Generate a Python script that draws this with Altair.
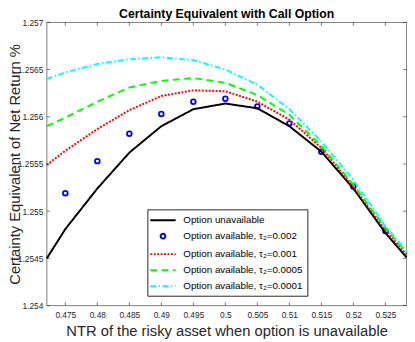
import altair as alt
import pandas as pd

# ---------------- data ----------------
x_line = [0.4721, 0.475, 0.48, 0.485, 0.49, 0.495, 0.5, 0.505, 0.51, 0.515, 0.52, 0.525, 0.5283]
ce_unavailable = [1.2545, 1.25481, 1.25524, 1.25562, 1.2559, 1.25608, 1.25614, 1.25609, 1.2559, 1.25563, 1.25524, 1.25477, 1.25451]
ce_tau_001 = [1.25549, 1.25564, 1.25587, 1.25607, 1.25622, 1.25628, 1.25627, 1.25616, 1.25597, 1.25567, 1.25526, 1.2548, 1.25454]
ce_tau_0005 = [1.2559, 1.25599, 1.25616, 1.25631, 1.25638, 1.25641, 1.25636, 1.25623, 1.25602, 1.25569, 1.25528, 1.25482, 1.25456]
ce_tau_0001 = [1.2564, 1.25647, 1.25656, 1.25661, 1.25663, 1.2566, 1.2565, 1.25634, 1.25608, 1.25574, 1.25533, 1.25484, 1.25458]

x_points = [0.475, 0.48, 0.485, 0.49, 0.495, 0.5, 0.505, 0.51, 0.515, 0.52, 0.525]
ce_tau_002 = [1.25519, 1.25553, 1.25582, 1.25603, 1.25616, 1.25619, 1.25611, 1.25593, 1.25563, 1.25526, 1.25479]

labels = [
    "Option unavailable",
    "Option available, τ₂=0.002",
    "Option available, τ₂=0.001",
    "Option available, τ₂=0.0005",
    "Option available, τ₂=0.0001",
]
colors = ["#000000", "#0000ff", "#ff0000", "#00ff00", "#00ffff"]
dashes = [[1, 0], [1, 0], [2, 1.5], [7, 4.5], [6, 2.5, 1.5, 2.5]]

x_limits = [0.4721, 0.5283]
y_limits = [1.254, 1.257]
x_ticks = [0.475, 0.48, 0.485, 0.49, 0.495, 0.5, 0.505, 0.51, 0.515, 0.52, 0.525]
y_ticks = [1.254, 1.2545, 1.255, 1.2555, 1.256, 1.2565, 1.257]

# ---------------- tables ----------------
line_rows = []
for name, vals in [(labels[0], ce_unavailable), (labels[2], ce_tau_001),
                   (labels[3], ce_tau_0005), (labels[4], ce_tau_0001)]:
    for xv, yv in zip(x_line, vals):
        line_rows.append({"x": xv, "y": yv, "series": name})
lines_df = pd.DataFrame(line_rows)
points_df = pd.DataFrame({"x": x_points, "y": ce_tau_002, "series": labels[1]})
xt_df = pd.DataFrame({"x": x_ticks})
yt_df = pd.DataFrame({"y": y_ticks})

W, H = 366.5, 288.5
TICK = 3.5
FONT = "Liberation Sans"
AXC = "#262626"
SYM = 144

xscale = alt.Scale(domain=x_limits, nice=False, zero=False)
yscale = alt.Scale(domain=y_limits, nice=False, zero=False)
xaxis = alt.Axis(values=x_ticks, format="~g", title="NTR of the risky asset when option is unavailable",
                 labelPadding=5, titleX=W / 2, titleY=30.5, titleBaseline="alphabetic")
yaxis = alt.Axis(values=y_ticks, format="~g", title="Certainty Equivalent of Net Return %",
                 labelPadding=4, titleX=-28, titleY=H / 2, titleBaseline="alphabetic")
X = alt.X("x:Q", scale=xscale, axis=xaxis)
Y = alt.Y("y:Q", scale=yscale, axis=yaxis)

circle_path = "M0.4,0A0.4,0.4 0 1,1 -0.4,0A0.4,0.4 0 1,1 0.4,0"
line_path = "M-2.15,0L2.15,0"
shapes = [line_path, circle_path, line_path, line_path, line_path]

legend = alt.Legend(
    title=None, orient="none", legendX=102.5, legendY=190.5,
    fillColor="white", strokeColor=AXC, padding=4, rowPadding=4.3,
    labelFont=FONT, labelFontSize=10, labelColor="black", labelLimit=400,
    symbolSize=SYM, symbolStrokeWidth=2, symbolOffset=4.9, labelOffset=13.7,
    symbolOpacity=1, symbolFillColor="transparent",
)
color = alt.Color("series:N", scale=alt.Scale(domain=labels, range=colors), legend=legend)
shape = alt.Shape("series:N", scale=alt.Scale(domain=labels, range=shapes), legend=legend)
dash = alt.StrokeDash("series:N", scale=alt.Scale(domain=labels, range=dashes), legend=legend)

points = alt.Chart(points_df).mark_point(filled=False, size=SYM, strokeWidth=1.8, opacity=1).encode(
    x=X, y=Y, color=color, shape=shape
)
lines = alt.Chart(lines_df).mark_line(strokeWidth=2).encode(
    x=X, y=Y, color=color, strokeDash=dash,
)

rule = dict(color=AXC, strokeWidth=0.6)
t_bottom = alt.Chart(xt_df).mark_rule(**rule).encode(x=X, y=alt.value(H), y2=alt.value(H - TICK))
t_top = alt.Chart(xt_df).mark_rule(**rule).encode(x=X, y=alt.value(0), y2=alt.value(TICK))
t_left = alt.Chart(yt_df).mark_rule(**rule).encode(y=Y, x=alt.value(0), x2=alt.value(TICK))
t_right = alt.Chart(yt_df).mark_rule(**rule).encode(y=Y, x=alt.value(W), x2=alt.value(W - TICK))

chart = alt.layer(points, lines, t_bottom, t_top, t_left, t_right).properties(
    width=W, height=H,
    title=alt.Title("Certainty Equivalent with Call Option", font=FONT, fontSize=12.5,
                    fontWeight="bold", color="black", anchor="middle", baseline="alphabetic",
                    offset=2.3, dy=14.8),
    autosize=alt.AutoSizeParams(type="none"),
    padding={"left": 39.5, "top": 11.5, "right": 0.5, "bottom": 34},
).configure_view(stroke=AXC, strokeWidth=0.6).configure_axis(
    grid=False, domain=False, ticks=False, tickSize=0,
    labelFont=FONT, labelFontSize=8.5, labelColor=AXC,
    titleFont=FONT, titleFontSize=15, titleFontWeight="normal", titleColor=AXC,
)

chart.save("out.html", embed_options={"renderer": "svg", "actions": False})
